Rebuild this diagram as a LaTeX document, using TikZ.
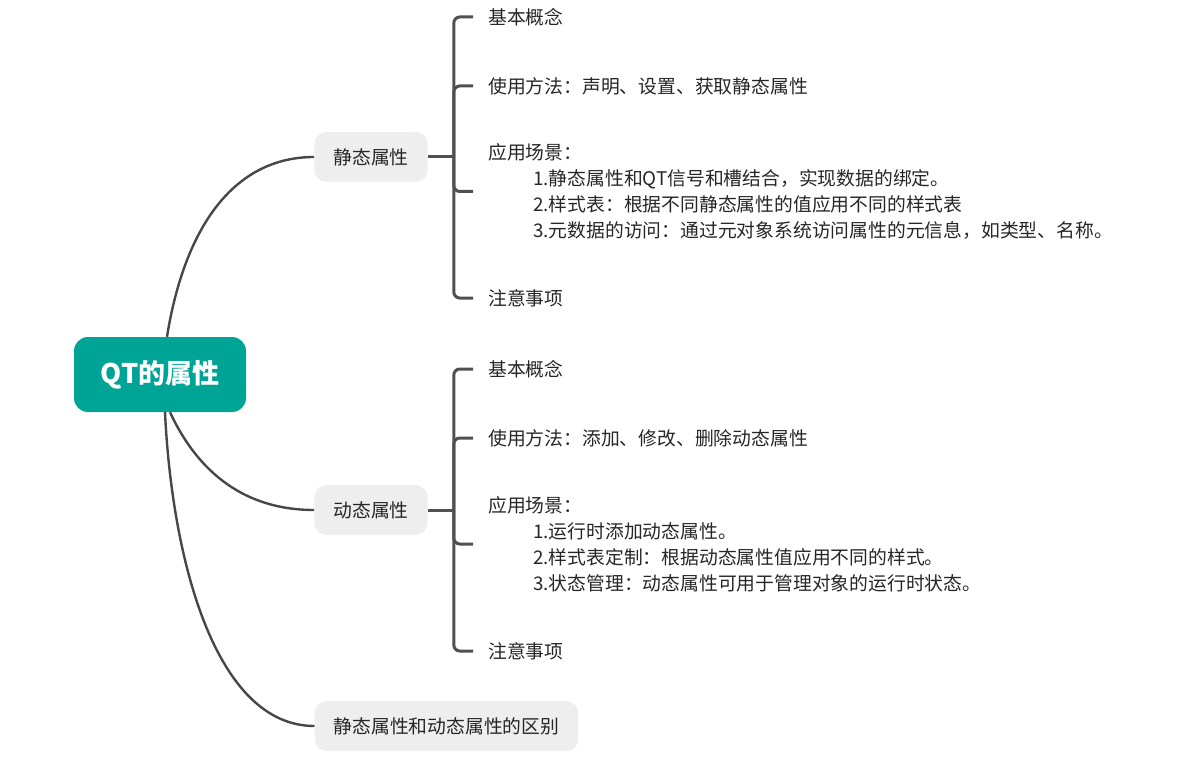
\documentclass[tikz,border=0pt]{standalone}
\usepackage{fontspec}
\setmainfont{Noto Sans CJK SC}
\definecolor{rootteal}{HTML}{00A497}
\definecolor{topicgray}{HTML}{EEEEEE}
\definecolor{linegray}{HTML}{474747}
\definecolor{bracketgray}{HTML}{505050}
\definecolor{textdark}{HTML}{262626}
\begin{document}
\begin{tikzpicture}[x=1pt,y=-1pt,
  topic/.style={fill=topicgray, rounded corners=12pt, minimum height=50pt, inner xsep=19pt, font=\fontsize{18.8}{22}\selectfont, text=textdark},
  leaf/.style={anchor=west, inner xsep=15pt, inner ysep=2pt, align=left, font=\fontsize{18.8}{26}\selectfont, text=textdark},
  curve/.style={line width=2.4pt, draw=linegray},
  bracket/.style={line width=3pt, draw=bracketgray, rounded corners=6pt}]
\useasboundingbox (0,0) rectangle (1179,765);
% main topics
\node[fill=rootteal, rounded corners=14pt, minimum width=172pt, minimum height=75pt, text=white, font=\bfseries\fontsize{27}{30}\selectfont] (root) at (160,374.5) {QT的属性};
\node[topic] (st) at (371,157) {静态属性};
\node[topic] (dy) at (371,510) {动态属性};
\node[topic] (df) at (446.5,726) {静态属性和动态属性的区别};
\draw[curve] ([xshift=7pt]root.north) .. controls +(18,-112) and +(-79,0) .. (st.west);
\draw[curve] ([xshift=10pt]root.south) .. controls +(20,43) and +(-84,0) .. (dy.west);
\draw[curve] ([xshift=5pt]root.south) .. controls +(7,148) and +(-99,0) .. (df.west);
% static leaves
\node[leaf] (s1) at (473,17) {基本概念};
\node[leaf] (s2) at (473,86) {使用方法：声明、设置、获取静态属性};
\node[leaf] (s3) at (473,191.5) {应用场景：\\
  \hspace*{45pt}1.静态属性和QT信号和槽结合，实现数据的绑定。\\
  \hspace*{45pt}2.样式表：根据不同静态属性的值应用不同的样式表\\
  \hspace*{45pt}3.元数据的访问：通过元对象系统访问属性的元信息，如类型、名称。};
\node[leaf] (s4) at (473,298) {注意事项};
% dynamic leaves
\node[leaf] (d1) at (473,369) {基本概念};
\node[leaf] (d2) at (473,438) {使用方法：添加、修改、删除动态属性};
\node[leaf] (d3) at (473,544) {应用场景：\\
  \hspace*{45pt}1.运行时添加动态属性。\\
  \hspace*{45pt}2.样式表定制：根据动态属性值应用不同的样式。\\
  \hspace*{45pt}3.状态管理：动态属性可用于管理对象的运行时状态。};
\node[leaf] (d4) at (473,651) {注意事项};
% brackets
\draw[bracket] (st.east) -- ++(26,0) coordinate (sj);
\foreach \n in {s1,s2,s3,s4} \draw[bracket] (sj) |- (\n.west);
\draw[bracket] (dy.east) -- ++(26,0) coordinate (dj);
\foreach \n in {d1,d2,d3,d4} \draw[bracket] (dj) |- (\n.west);
\end{tikzpicture}
\end{document}
